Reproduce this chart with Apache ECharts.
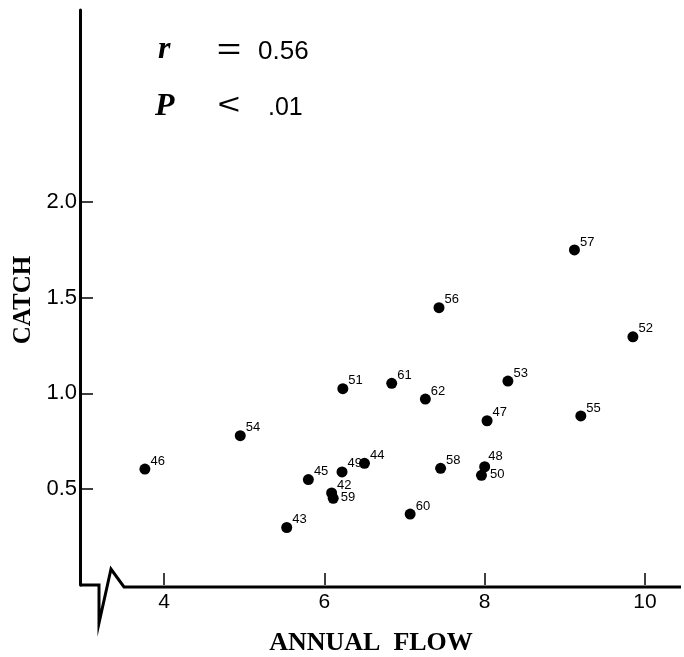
<!DOCTYPE html>
<html><head><meta charset="utf-8">
<script src="https://cdn.jsdelivr.net/npm/echarts@6/dist/echarts.min.js"></script>
<style>html,body{margin:0;padding:0;background:#fff}#c{width:684px;height:657px}</style>
</head><body><div id="c"></div>
<script>
// ---- data ----
const years = ['42','43','44','45','46','47','48','49','50','51','52','53','54','55','56','57','58','59','60','61','62'];
const annualFlow = [6.09, 5.53, 6.50, 5.80, 3.76, 8.03, 8.00, 6.22, 7.96, 6.23, 9.85, 8.29, 4.95, 9.20, 7.43, 9.12, 7.45, 6.11, 7.07, 6.84, 7.26];
const catchValues = [0.48, 0.30, 0.635, 0.55, 0.605, 0.857, 0.617, 0.59, 0.572, 1.024, 1.295, 1.064, 0.779, 0.882, 1.447, 1.748, 0.609, 0.452, 0.37, 1.052, 0.97];
const xTickValues = [4, 6, 8, 10];
const yTickValues = [0.5, 1.0, 1.5, 2.0];
const xTitle = 'ANNUAL  FLOW';
const yTitle = 'CATCH';
const rText = '0.56';
const pText = '.01';

// label nudges (style only)
const labelOffsets = {'48': [-2, -10], '50': [3, -1], '59': [2, -1]};

const chart = echarts.init(document.getElementById('c'), null, {renderer: 'canvas'});
const data = years.map((yr, i) => {
  const item = {value: [annualFlow[i], catchValues[i], yr]};
  if (labelOffsets[yr]) item.label = {offset: labelOffsets[yr]};
  return item;
});

const sans = 'Liberation Sans';
const serif = 'Liberation Serif';
function txt(text, x, y, font, align, extra) {
  return Object.assign({
    type: 'text', x: x, y: y,
    style: {text: text, font: font, fill: '#000', align: align, textAlign: align, verticalAlign: 'middle', textVerticalAlign: 'middle'}
  }, extra || {});
}

chart.setOption({
  animation: false,
  backgroundColor: '#fff',
  grid: {left: 84, right: 3, top: 10, bottom: 72},
  xAxis: {
    type: 'value', min: 3, max: 10.45,
    axisLine: {show: false},
    splitLine: {show: false},
    axisTick: {show: true, inside: true, length: 12, customValues: xTickValues, lineStyle: {color: '#000', width: 1.5}},
    axisLabel: {customValues: xTickValues, margin: 7, fontSize: 21, fontFamily: sans, color: '#000'}
  },
  yAxis: {
    type: 'value', min: 0, max: 3, offset: 4,
    axisLine: {show: true, lineStyle: {color: '#000', width: 3}},
    splitLine: {show: false},
    axisTick: {show: true, inside: true, length: 13, customValues: yTickValues, lineStyle: {color: '#000', width: 1.5}},
    axisLabel: {customValues: yTickValues, formatter: v => v.toFixed(1), margin: 3, fontSize: 22, fontFamily: sans, color: '#000'}
  },
  series: [{
    type: 'scatter',
    data: data,
    symbol: 'circle',
    symbolSize: 11,
    itemStyle: {color: '#000', opacity: 1},
    label: {
      show: true, position: 'right', distance: 0, offset: [0, -8],
      formatter: p => p.value[2],
      fontSize: 13, fontFamily: sans, color: '#000'
    },
    emphasis: {disabled: true}
  }],
  graphic: [
    {type: 'polyline', shape: {points: [[80, 585], [99, 585], [99, 623], [111, 569], [124, 587], [681, 587]]},
     style: {stroke: '#000', lineWidth: 3, fill: null, lineJoin: 'miter'}},
    txt(xTitle, 371, 643, 'bold 26px ' + serif, 'center'),
    txt(yTitle, 24, 300, 'bold 25px ' + serif, 'center', {rotation: Math.PI / 2}),
    txt('r', 158, 50, 'italic bold 32px ' + serif, 'left'),
    txt('=', 229, 51, '30px ' + sans, 'center', {scaleX: 1.4}),
    txt(rText, 258, 52, '26px ' + sans, 'left'),
    txt('P', 155, 107, 'italic bold 32px ' + serif, 'left'),
    txt('<', 229, 106, '30px ' + sans, 'center', {scaleX: 1.3}),
    txt(pText, 268, 108, '25px ' + sans, 'left')
  ]
});
</script>
</body></html>
